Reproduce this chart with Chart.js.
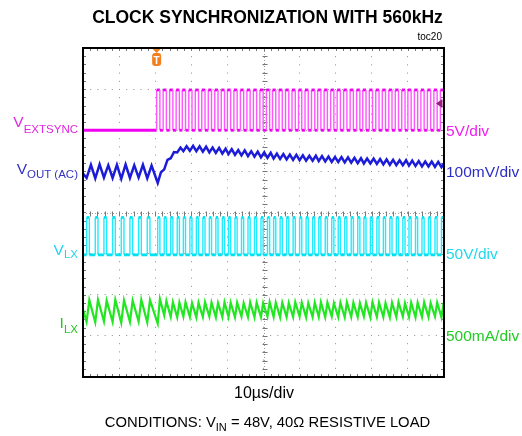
<!DOCTYPE html>
<html>
<head>
<meta charset="utf-8">
<script src="https://cdn.jsdelivr.net/npm/chart.js@4.4.1/dist/chart.umd.min.js"></script>
<style>
  html, body { margin: 0; padding: 0; background: #fff; }
  #wrap { position: relative; width: 522px; height: 436px; font-family: "Liberation Sans", Arial, sans-serif; }
  #wrap canvas { position: absolute; left: 0; top: 0; }
  .lbl { position: absolute; white-space: nowrap; line-height: 1; font-size: 15.5px; }
  .lbl .s { font-size: 11.5px; position: relative; }
  .side { right: 444px; text-align: right; }
  .scale { left: 446px; }
</style>
</head>
<body>
<div id="wrap">
  <canvas id="scope" width="522" height="436"></canvas>

  <div class="lbl" style="left:0; width:535px; text-align:center; top:9px; font-size:17.5px; font-weight:bold; color:#000;">CLOCK SYNCHRONIZATION WITH 560kHz</div>
  <div class="lbl" style="right:80px; top:31.5px; font-size:10px; color:#000;">toc20</div>

  <div class="lbl side" style="top:113.6px; color:#e028e0;">V<span class="s" style="top:6px;">EXTSYNC</span></div>
  <div class="lbl side" style="top:160.5px; color:#3434c0;">V<span class="s" style="top:4.5px;">OUT (AC)</span></div>
  <div class="lbl side" style="top:242px; color:#22d4f0;">V<span class="s" style="top:3px;">LX</span></div>
  <div class="lbl side" style="top:315px; color:#22c822;">I<span class="s" style="top:5px;">LX</span></div>

  <div class="lbl scale" style="top:123px; color:#f01ef0;">5V/div</div>
  <div class="lbl scale" style="top:163.6px; color:#2d2dc8;">100mV/div</div>
  <div class="lbl scale" style="top:246px; color:#22d8ee;">50V/div</div>
  <div class="lbl scale" style="top:328px; color:#22cc22;">500mA/div</div>

  <div class="lbl" style="left:0; width:528px; text-align:center; top:384.5px; font-size:16px; color:#000;">10µs/div</div>
  <div class="lbl" style="left:0; width:535px; text-align:center; top:414.5px; font-size:14.8px; color:#000;">CONDITIONS: V<span class="s" style="top:4px; font-size:11px;">IN</span> = 48V, 40Ω RESISTIVE LOAD</div>
</div>

<script>
// scope screen: time in µs (10µs/div, 10 div), amplitude in divisions (8 div)
const timeTicks = [0, 10, 20, 30, 40, 50, 60, 70, 80, 90, 100];
const triggerUs = 20.4;

// VEXTSYNC : 560kHz clock switched on at the trigger
const syncRise = [20.4, 22.2, 24.0, 25.8, 27.5, 29.3, 31.1, 32.9, 34.7, 36.5, 38.3, 40.0, 41.8, 43.6, 45.4,
                  47.2, 49.0, 50.8, 52.5, 54.3, 56.1, 57.9, 59.7, 61.5, 63.3, 65.0, 66.8, 68.6, 70.4, 72.2,
                  74.0, 75.8, 77.5, 79.3, 81.1, 82.9, 84.7, 86.5, 88.3, 90.0, 91.8, 93.6, 95.4, 97.2, 99.0];
const syncHighUs = 0.9;
const syncLevel = [6.0, 6.98];

// VLX : switch node, free running before the trigger then locked to the clock
const lxRise = [1.0, 3.4, 5.8, 8.2, 10.6, 13.0, 15.4, 17.8,
                20.7, 22.5, 24.3, 26.1, 27.8, 29.6, 31.4, 33.2, 35.0, 36.8, 38.6, 40.3, 42.1, 43.9, 45.7,
                47.5, 49.3, 51.1, 52.8, 54.6, 56.4, 58.2, 60.0, 61.8, 63.6, 65.3, 67.1, 68.9, 70.7, 72.5,
                74.3, 76.1, 77.8, 79.6, 81.4, 83.2, 85.0, 86.8, 88.6, 90.3, 92.1, 93.9, 95.7, 97.5, 99.3];
const lxOnUs = [0.75, 0.6];          // before / after the trigger
const lxLevel = [2.97, 3.88];

// ILX : inductor current valley (at LX rise) and peak (at LX fall)
const ilxLow = [1.34, 1.33, 1.35, 1.34, 1.32, 1.34, 1.35, 1.33,
                1.30, 1.50, 1.46, 1.45, 1.47, 1.46, 1.45, 1.46, 1.47, 1.45, 1.46, 1.46, 1.45, 1.47, 1.46,
                1.45, 1.46, 1.47, 1.46, 1.45, 1.46, 1.46, 1.47, 1.45, 1.46, 1.46, 1.45, 1.47, 1.46, 1.45,
                1.46, 1.46, 1.47, 1.45, 1.46, 1.46, 1.45, 1.46, 1.47, 1.46, 1.45, 1.46, 1.46, 1.47, 1.45];
const ilxHigh = [1.87, 1.88, 1.86, 1.88, 1.87, 1.86, 1.88, 1.87,
                 1.90, 1.85, 1.82, 1.81, 1.82, 1.80, 1.81, 1.82, 1.81, 1.80, 1.82, 1.81, 1.81, 1.80, 1.82,
                 1.81, 1.80, 1.82, 1.81, 1.81, 1.80, 1.82, 1.81, 1.80, 1.81, 1.82, 1.81, 1.80, 1.81, 1.82,
                 1.81, 1.80, 1.81, 1.82, 1.81, 1.80, 1.81, 1.82, 1.80, 1.81, 1.81, 1.82, 1.80, 1.81, 1.81];
const ilxStart = 1.64;

// VOUT (AC) : ripple valleys / peaks per switching cycle
const voutLow = [4.84, 4.83, 4.85, 4.84, 4.82, 4.84, 4.85, 4.83,
                 4.72, 5.05, 5.32, 5.46, 5.49, 5.50, 5.49, 5.48, 5.46, 5.45, 5.43, 5.42, 5.40, 5.39, 5.37,
                 5.36, 5.34, 5.33, 5.31, 5.30, 5.29, 5.28, 5.27, 5.26, 5.26, 5.25, 5.24, 5.23, 5.23, 5.22,
                 5.21, 5.20, 5.19, 5.19, 5.18, 5.17, 5.16, 5.15, 5.15, 5.14, 5.13, 5.12, 5.12, 5.11, 5.10];
const voutHigh = [5.16, 5.17, 5.15, 5.16, 5.17, 5.15, 5.16, 5.14,
                  4.98, 5.28, 5.47, 5.58, 5.61, 5.62, 5.61, 5.60, 5.58, 5.57, 5.55, 5.54, 5.52, 5.51, 5.49,
                  5.48, 5.46, 5.45, 5.43, 5.42, 5.41, 5.40, 5.39, 5.38, 5.38, 5.37, 5.36, 5.35, 5.35, 5.34,
                  5.33, 5.32, 5.31, 5.31, 5.30, 5.29, 5.28, 5.27, 5.27, 5.26, 5.25, 5.24, 5.24, 5.23, 5.22];
const voutPeakUs = [1.2, 0.9];
const voutStart = 4.95;

// ---- build the point tables ----
const phase = t => (t < triggerUs ? 0 : 1);

const syncPts = [{ x: 0, y: syncLevel[0] }];
syncRise.forEach(t => {
    syncPts.push({ x: t, y: syncLevel[0] }, { x: t, y: syncLevel[1] },
                 { x: t + syncHighUs, y: syncLevel[1] }, { x: t + syncHighUs, y: syncLevel[0] });
});
syncPts.push({ x: 100, y: syncLevel[0] });

const lxPts = [{ x: 0, y: lxLevel[0] }];
lxRise.forEach(t => {
    const w = lxOnUs[phase(t)];
    lxPts.push({ x: t, y: lxLevel[0] }, { x: t, y: lxLevel[1] },
               { x: t + w, y: lxLevel[1] }, { x: t + w, y: lxLevel[0] });
});
lxPts.push({ x: 100, y: lxLevel[0] });

const ilxPts = [{ x: 0, y: ilxStart }];
lxRise.forEach((t, i) => {
    ilxPts.push({ x: t, y: ilxLow[i] }, { x: t + lxOnUs[phase(t)], y: ilxHigh[i] });
});

const voutPts = [{ x: 0, y: voutStart }];
lxRise.forEach((t, i) => {
    voutPts.push({ x: t, y: voutLow[i] }, { x: t + voutPeakUs[phase(t)], y: voutHigh[i] });
});

const isEdge = c => c.p0.parsed.x === c.p1.parsed.x;

function stepSet(pts, level, edge) {
    return {
        data: pts, showLine: true, borderColor: level, borderWidth: 2.8,
        segment: {
            borderColor: c => (isEdge(c) ? edge : level),
            borderWidth: c => (isEdge(c) ? 1.4 : 2.8)
        }
    };
}

// grid extras, frame, trigger marker
const scopeDecor = {
    id: 'scopeDecor',
    beforeDatasetsDraw(chart) {
        const { ctx, chartArea: a, scales: { x, y } } = chart;
        const seg = (x1, y1, x2, y2) => { ctx.beginPath(); ctx.moveTo(x1, y1); ctx.lineTo(x2, y2); ctx.stroke(); };
        const cx = Math.round(x.getPixelForValue(50)) + 0.5;
        const cy = Math.round(y.getPixelForValue(4)) + 0.5;
        ctx.save();
        ctx.strokeStyle = '#9a9a9a';
        ctx.lineWidth = 1;
        ctx.setLineDash([1, 2]);
        seg(a.left, cy, a.right, cy);
        seg(cx, a.top, cx, a.bottom);
        ctx.setLineDash([]);
        ctx.strokeStyle = '#777';
        for (let t = 0; t <= 100; t += 2) {
            const px = Math.round(x.getPixelForValue(t)) + 0.5;
            seg(px, cy - 2, px, cy + 3);
            seg(px, a.top, px, a.top + 3);
            seg(px, a.bottom - 3, px, a.bottom);
        }
        for (let v = 0; v <= 8.01; v += 0.2) {
            const py = Math.round(y.getPixelForValue(v)) + 0.5;
            seg(cx - 2, py, cx + 3, py);
            seg(a.left, py, a.left + 3, py);
            seg(a.right - 3, py, a.right, py);
        }
        ctx.restore();
    },
    afterDatasetsDraw(chart) {
        const { ctx, chartArea: a, scales: { x, y } } = chart;
        ctx.save();
        // frame
        ctx.strokeStyle = '#000';
        ctx.lineWidth = 2;
        ctx.strokeRect(a.left, a.top, a.right - a.left, a.bottom - a.top);
        // trigger marker
        const tx = x.getPixelForValue(triggerUs);
        ctx.fillStyle = '#f08020';
        ctx.beginPath();
        ctx.moveTo(tx - 4, a.top + 1); ctx.lineTo(tx + 4, a.top + 1); ctx.lineTo(tx, a.top + 5);
        ctx.fill();
        ctx.beginPath();
        ctx.roundRect(tx - 4.5, a.top + 5, 9, 13, 3);
        ctx.fill();
        ctx.fillStyle = '#fff';
        ctx.font = 'bold 10px "Liberation Sans", Arial';
        ctx.textAlign = 'center';
        ctx.fillText('T', tx, a.top + 15.5);
        // channel reference arrow on the right edge
        const ry = y.getPixelForValue(6.65);
        ctx.fillStyle = '#98207f';
        ctx.beginPath();
        ctx.moveTo(a.right - 8, ry); ctx.lineTo(a.right - 3, ry - 3.5); ctx.lineTo(a.right - 3, ry + 3.5);
        ctx.fill();
        ctx.fillRect(a.right - 3, ry - 4, 1.5, 8);
        ctx.restore();
    }
};

const grid = { color: '#8c8c8c', lineWidth: 1, drawTicks: false };

new Chart(document.getElementById('scope'), {
    type: 'scatter',
    data: {
        datasets: [
            stepSet(syncPts, '#f000f0', '#ff55ff'),
            { data: voutPts, showLine: true, borderColor: '#1c1cd8', borderWidth: 2.5 },
            stepSet(lxPts, '#00e2f0', '#20ecff'),
            { data: ilxPts, showLine: true, borderColor: '#22e622', borderWidth: 2.2 }
        ]
    },
    options: {
        responsive: false,
        animation: false,
        events: [],
        layout: { padding: { left: 83, top: 48, right: 78, bottom: 59 } },
        elements: { point: { radius: 0, hoverRadius: 0 }, line: { tension: 0 } },
        plugins: { legend: { display: false }, tooltip: { enabled: false } },
        scales: {
            x: {
                type: 'linear', min: timeTicks[0], max: timeTicks[timeTicks.length - 1],
                afterBuildTicks: s => { s.ticks = timeTicks.map(v => ({ value: v })); },
                ticks: { display: false },
                grid: grid,
                border: { display: false, dash: [1, 7.2] }
            },
            y: {
                type: 'linear', min: 0, max: 8,
                ticks: { display: false, stepSize: 1 },
                grid: grid,
                border: { display: false, dash: [1, 6.2] }
            }
        }
    },
    plugins: [scopeDecor]
});
</script>
</body>
</html>
